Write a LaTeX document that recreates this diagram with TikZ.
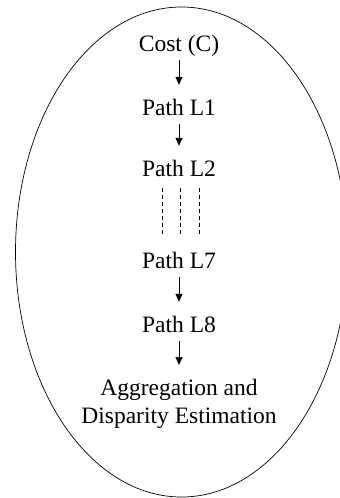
\documentclass[tikz,border=0pt]{standalone}
\usepackage{fontspec}
\setmainfont{Liberation Serif}
\usetikzlibrary{arrows.meta}

\tikzset{
    stage/.style={font=\fontsize{23.5}{28}\selectfont, inner sep=0pt, text height=16pt, text depth=5pt, anchor=base},
    flow/.style={-{Triangle[length=8pt, width=7pt]}, line width=0.7pt, shorten <=3.5pt, shorten >=14pt},
    gap/.style={dash pattern=on 4pt off 3pt, line width=0.6pt, shorten <=7pt, shorten >=15pt}
}

\begin{document}
\begin{tikzpicture}[x=1pt, y=-1pt]
    \useasboundingbox (0,0) rectangle (340,498);
    \draw[line width=0.7pt] (181.5,252) ellipse [x radius=166pt, y radius=245pt];

    \node[stage] (cost) at (179,51.5) {Cost (C)};
    \node[stage] (l1) at (179,115) {Path L1};
    \node[stage] (l2) at (179,176) {Path L2};
    \node[stage] (l7) at (179,268) {Path L7};
    \node[stage] (l8) at (179,332) {Path L8};
    \node[font=\fontsize{23.5}{28}\selectfont, inner sep=0pt, align=center, anchor=north] (agg) at (179,379) {Aggregation and\\Disparity Estimation};

    \draw[flow] (cost) -- (l1);
    \draw[flow] (l1) -- (l2);
    \draw[flow] (l7) -- (l8);
    \draw[flow] (l8.south) -- (agg.north);

    \draw[gap] ([xshift=-17pt]l2.south) -- ([xshift=-17pt]l7.north);
    \draw[gap] ([xshift=1pt]l2.south) -- ([xshift=1pt]l7.north);
    \draw[gap] ([xshift=20pt]l2.south) -- ([xshift=20pt]l7.north);
\end{tikzpicture}
\end{document}
